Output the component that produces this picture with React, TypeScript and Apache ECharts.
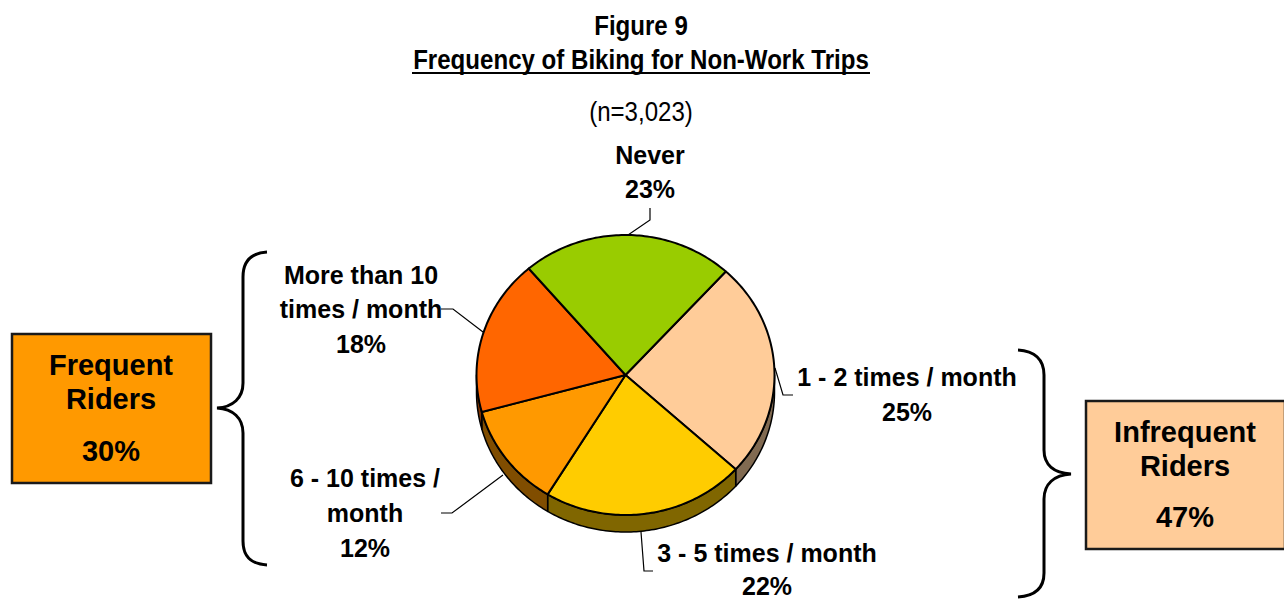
import React, { useEffect, useRef } from "react";
import * as echarts from "echarts";

const categories = ["1 - 2 times / month", "3 - 5 times / month", "6 - 10 times / month", "More than 10 times / month", "Never"];
const shares = [25, 22, 12, 18, 23];
const sliceColors = ["#FFCC99", "#FFCC00", "#FF9900", "#FF6600", "#99CC00"];
const wallColors = ["#816A51", "#806600", "#804D00", "#803300", "#4D6600"];
const titleLine1 = "Figure 9";
const titleLine2 = "Frequency of Biking for Non-Work Trips";
const sampleNote = "(n=3,023)";
const labelLines = [
  ["1 - 2 times / month", "25%"],
  ["3 - 5 times / month", "22%"],
  ["6 - 10 times /", "month", "12%"],
  ["More than 10", "times / month", "18%"],
  ["Never", "23%"],
];
const groupBoxes = [
  { lines: ["Frequent", "Riders"], value: "30%", fill: "#FF9900" },
  { lines: ["Infrequent", "Riders"], value: "47%", fill: "#FFCC99" },
];

const CX = 625.5, CY = 375, RX = 149, RY = 140, DEPTH = 17, START = 42.3;
const total = shares.reduce((a, b) => a + b, 0);
const LABEL_FONT = '"Liberation Sans", Arial, sans-serif';

const sliceRange = (i: number) => {
  const before = shares.slice(0, i).reduce((a, b) => a + b, 0);
  return [START + (before / total) * 360, START + ((before + shares[i]) / total) * 360];
};
const pt = (deg: number, dy = 0) => {
  const r = (deg * Math.PI) / 180;
  return [CX + RX * Math.sin(r), CY - RY * Math.cos(r) + dy];
};
const arc = (a: number, b: number, dy = 0) => {
  const n = Math.max(2, Math.ceil(Math.abs(b - a)));
  const out: number[][] = [];
  for (let k = 0; k <= n; k++) out.push(pt(a + ((b - a) * k) / n, dy));
  return out;
};

const labelPos = [
  { x: 907, y: [377, 412] },
  { x: 767, y: [553, 586.4] },
  { x: 365, y: [478, 513, 548] },
  { x: 361, y: [275, 309, 344] },
  { x: 650, y: [155, 189] },
];
const leaders = [
  [[775, 368], [783, 395], [793, 395]],
  [[641, 532], [644, 571], [653, 571]],
  [[503, 475], [452, 513], [441, 513]],
  [[441, 309], [453, 309], [483, 332]],
  [[650, 208], [650, 220], [628, 235]],
];
const boxLayout = [
  { x: 12, y: 334, w: 199, h: 149, cx: 111, ty: [365, 399], vy: 451 },
  { x: 1086, y: 401, w: 199, h: 148, cx: 1185, ty: [432, 466], vy: 517 },
];
const LEFT_BRACE = "M267 252 C251 253 243 261 243 277 L243 383 C243 398 233 407 217 408 C233 409 243 418 243 433 L243 541 C243 557 251 564 267 565";
const RIGHT_BRACE = "M1018 350 C1034 351 1044 359 1044 375 L1044 450 C1044 465 1054 473 1071 474 C1054 475 1044 484 1044 499 L1044 573 C1044 589 1034 596 1018 597";

echarts.graphic.registerShape("leftBrace", echarts.graphic.extendPath(LEFT_BRACE, {}));
echarts.graphic.registerShape("rightBrace", echarts.graphic.extendPath(RIGHT_BRACE, {}));

const text = (s: string, x: number, y: number, size: number, extra: any = {}, scaleX = 1) => ({
  type: "text", x, y, z: 10, scaleX,
  style: { text: s, align: "center", verticalAlign: "middle", fill: "#000", fontFamily: LABEL_FONT, fontWeight: "bold", fontSize: size, ...extra },
});

const data = categories.map((name, i) => ({ name, value: shares[i] }));

export default function App() {
  const ref = useRef<HTMLDivElement>(null);
  useEffect(() => {
    document.body.style.margin = "0";
    document.body.style.overflow = "hidden";
    const chart = echarts.init(ref.current!, null, { renderer: "svg" });
    const graphics: any[] = [];
    graphics.push(text(titleLine1, 641, 25, 28, {}, 0.86));
    graphics.push(text(titleLine2, 641, 59, 28, {}, 0.86));
    graphics.push({ type: "line", z: 10, shape: { x1: 412, y1: 73, x2: 870, y2: 73 }, style: { stroke: "#000", lineWidth: 2 } });
    graphics.push(text(sampleNote, 641, 111, 28, { fontWeight: "normal" }, 0.86));
    labelLines.forEach((lines, i) => lines.forEach((l, j) => graphics.push(text(l, labelPos[i].x, labelPos[i].y[j], 25))));
    leaders.forEach((points) => graphics.push({ type: "polyline", z: 9, shape: { points }, style: { stroke: "#000", lineWidth: 1.2, fill: "none" } }));
    groupBoxes.forEach((b, i) => {
      const L = boxLayout[i];
      graphics.push({ type: "rect", z: 8, shape: { x: L.x, y: L.y, width: L.w, height: L.h }, style: { fill: b.fill, stroke: "#1a1a1a", lineWidth: 2.5 } });
      b.lines.forEach((l, j) => graphics.push(text(l, L.cx, L.ty[j], 29)));
      graphics.push(text(b.value, L.cx, L.vy, 29));
    });
    graphics.push({ type: "leftBrace", z: 8, style: { fill: "none", stroke: "#000", lineWidth: 3 } });
    graphics.push({ type: "rightBrace", z: 8, style: { fill: "none", stroke: "#000", lineWidth: 3 } });

    chart.setOption({
      animation: false,
      backgroundColor: "#fff",
      graphic: graphics,
      series: [
        {
          type: "custom", name: "Wall", coordinateSystem: "none", silent: true, z: 2, data,
          renderItem: (params: any) => {
            const [a, b] = sliceRange(params.dataIndex);
            const from = Math.max(a, 90), to = Math.min(b, 270);
            if (to <= from) return { type: "group", children: [] };
            return {
              type: "polygon",
              shape: { points: [...arc(from, to), ...arc(to, from, DEPTH)] },
              style: { fill: wallColors[params.dataIndex], stroke: "#000", lineWidth: 1.5, lineJoin: "round" },
            };
          },
        },
        {
          type: "custom", name: "Frequency of biking", coordinateSystem: "none", silent: true, z: 3, data,
          renderItem: (params: any) => {
            const [a, b] = sliceRange(params.dataIndex);
            return {
              type: "polygon",
              shape: { points: [[CX, CY], ...arc(a, b)] },
              style: { fill: sliceColors[params.dataIndex], stroke: "#000", lineWidth: 2, lineJoin: "round" },
            };
          },
        },
      ],
    });
    return () => chart.dispose();
  }, []);
  return <div ref={ref} style={{ width: 1284, height: 599 }} />;
}
